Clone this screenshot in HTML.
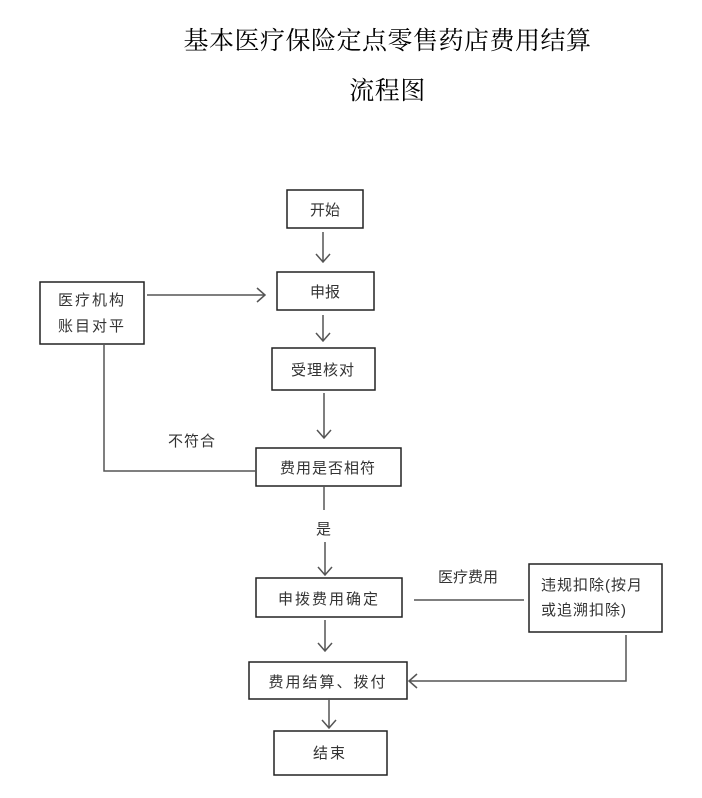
<!DOCTYPE html>
<html><head><meta charset="utf-8"><style>
body{margin:0;width:702px;height:798px;background:#fff;position:relative;font-family:"Liberation Serif","Noto Serif CJK SC",serif;}
.t{position:absolute;left:0;width:775px;text-align:center;font-size:25px;letter-spacing:0.5px;color:#000;}
svg{position:absolute;left:0;top:0}
svg text{font-family:"Liberation Sans","Noto Sans CJK SC",sans-serif;font-size:15px;fill:#333;}
</style></head><body>
<div class="t" style="top:21px">基本医疗保险定点零售药店费用结算</div>
<div class="t" style="top:71px">流程图</div>
<svg width="702" height="798">
<g fill="none" stroke="#222" stroke-width="1.5">
<rect x="287" y="190" width="76" height="38"/>
<rect x="277" y="272" width="97" height="38"/>
<rect x="40" y="282" width="104" height="62"/>
<rect x="272" y="348" width="103" height="42"/>
<rect x="256" y="448" width="145" height="38"/>
<rect x="256" y="578" width="146" height="39"/>
<rect x="529" y="564" width="133" height="68"/>
<rect x="249" y="662" width="158" height="37"/>
<rect x="274" y="731" width="113" height="44"/>
</g>
<g fill="none" stroke="#555" stroke-width="1.5">
<path d="M323 232V262M316 254L323 262L330 254"/>
<path d="M147 295H265M257 288L265 295L257 302"/>
<path d="M323 315V341M316 333L323 341L330 333"/>
<path d="M324 393V438M317 430L324 438L331 430"/>
<path d="M104 345V471H256"/>
<path d="M324 486V510"/>
<path d="M325 542V575M318 567L325 575L332 567"/>
<path d="M414 600H524"/>
<path d="M325 620V651M318 643L325 651L332 643"/>
<path d="M626 635V681H409M417 674L409 681L417 688"/>
<path d="M329 698V728M322 720L329 728L336 720"/>
</g>
<text x="325" y="215" text-anchor="middle">开始</text>
<text x="325" y="297" text-anchor="middle">申报</text>
<text x="92" y="305" text-anchor="middle" letter-spacing="2">医疗机构</text>
<text x="92" y="331" text-anchor="middle" letter-spacing="2">账目对平</text>
<text x="323" y="375" text-anchor="middle" letter-spacing="1">受理核对</text>
<text x="328" y="473" text-anchor="middle" letter-spacing="1">费用是否相符</text>
<text x="168" y="446" letter-spacing="1">不符合</text>
<text x="316" y="534">是</text>
<text x="329" y="604" text-anchor="middle" letter-spacing="2">申拨费用确定</text>
<text x="438" y="582" font-size="14">医疗费用</text>
<text x="541" y="590" letter-spacing="1">违规扣除(按月</text>
<text x="541" y="615" letter-spacing="1">或追溯扣除)</text>
<text x="328" y="687" text-anchor="middle" letter-spacing="2">费用结算、拨付</text>
<text x="330" y="758" text-anchor="middle" letter-spacing="2">结束</text>
</svg>
</body></html>
